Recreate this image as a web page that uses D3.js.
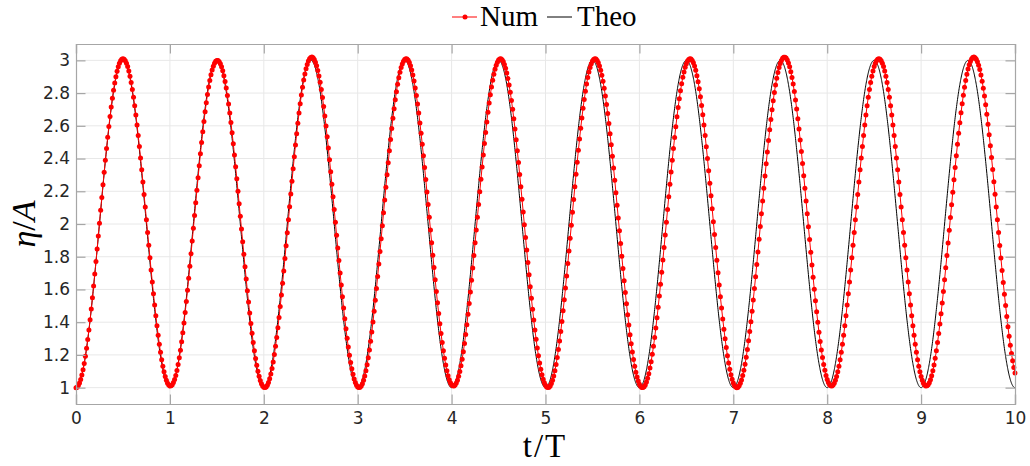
<!DOCTYPE html>
<html><head><meta charset="utf-8">
<script src="https://cdn.jsdelivr.net/npm/d3@7"></script>
<style>body{margin:0;background:#fff}svg{display:block}.tick text{font-family:"DejaVu Sans";font-size:17px}</style>
</head><body><svg id="c" width="1030" height="466"></svg>
<script>
// ---- data ----
const xTicks = [0,1,2,3,4,5,6,7,8,9,10];
const yTicks = [1,1.2,1.4,1.6,1.8,2,2.2,2.4,2.6,2.8,3];
const yTickLabels = ["1","1.2","1.4","1.6","1.8","2","2.2","2.4","2.6","2.8","3"];
// Theoretical curve: successive extrema (time, value)
const theoExtT = [0,0.5,1,1.5,2,2.5,3,3.5,4,4.5,5,5.5,6,6.5,7,7.5,8,8.5,9,9.5,10];
const theoExtV = [1,3,1,3,1,3,1,3,1,3,1,3,1,3,1,3,1,3,1,3,1];
// Numerical series: successive extrema (time, value)
const numExtT = [0,0.5,1.005,1.505,2.01,2.51,3.015,3.515,4.02,4.52,5.027,5.527,6.033,6.54,7.038,7.545,8.045,8.55,9.055,9.562,10.068];
const numExtV = [1.0,3.01,1.01,3.0,1.0,3.02,1.0,3.01,1.01,3.01,1.0,3.01,1.0,3.01,1.0,3.02,1.01,3.01,1.01,3.02,1.0];
const numStep = 0.0125;   // sampling interval of the numerical output
const tEnd = 10;

// shape between successive extrema (half cosine), sampled at given times
function sampleSeries(extT, extV, times){
  return times.map(t=>{
    let i = 0;
    while(i < extT.length-2 && t > extT[i+1]) i++;
    const a = extT[i], b = extT[i+1];
    const f = (t-a)/(b-a);
    const w = (1-Math.cos(Math.PI*f))/2;
    return {t, v: extV[i] + (extV[i+1]-extV[i])*w};
  });
}
const numTimes = d3.range(0, Math.round(tEnd/numStep)+1).map(k=>k*numStep);
const theoTimes = d3.range(0, 4001).map(k=>k*tEnd/4000);
const numData = sampleSeries(numExtT, numExtV, numTimes);
const theoData = sampleSeries(theoExtT, theoExtV, theoTimes);

// ---- drawing ----
const svg = d3.select("#c");
const L = 76, R = 1015, T = 44, B = 404;
const x = d3.scaleLinear().domain([0,10]).range([L,R]);
const y = d3.scaleLinear().domain([0.9,3.1]).range([B,T]);
const axisCol = "#a6a6a6", gridCol = "#e8e8e8", txtCol = "#262626";

// grid
const g = svg.append("g");
g.selectAll(".gx").data(xTicks.slice(1,-1)).join("line")
  .attr("x1",d=>x(d)).attr("x2",d=>x(d)).attr("y1",T).attr("y2",B)
  .attr("stroke",gridCol).attr("stroke-width",1);
g.selectAll(".gy").data(yTicks).join("line")
  .attr("y1",d=>y(d)).attr("y2",d=>y(d)).attr("x1",L).attr("x2",R)
  .attr("stroke",gridCol).attr("stroke-width",1);

// theo line
const line = d3.line().x(d=>x(d.t)).y(d=>y(d.v));
svg.append("path").datum(theoData).attr("d",line).attr("fill","none")
  .attr("stroke","#000").attr("stroke-width",1);
// num line + markers
svg.append("path").datum(numData).attr("d",line).attr("fill","none")
  .attr("stroke","#ff0000").attr("stroke-width",1);
svg.append("g").selectAll("circle").data(numData).join("circle")
  .attr("cx",d=>x(d.t)).attr("cy",d=>y(d.v)).attr("r",2.5).attr("fill","#ff0000");

// axes (box with inward ticks)
const tl = 9.5;
const axB = d3.axisBottom(x).tickValues(xTicks).tickSize(-tl).tickPadding(8).tickFormat(d3.format("d"));
const axT = d3.axisTop(x).tickValues(xTicks).tickSize(-tl).tickFormat("");
const axL = d3.axisLeft(y).tickValues(yTicks).tickSize(-tl).tickPadding(6).tickFormat((d,i)=>yTickLabels[i]);
const axR = d3.axisRight(y).tickValues(yTicks).tickSize(-tl).tickFormat("");
function styleAx(sel){
  sel.attr("font-size",17).attr("font-family","DejaVu Sans");
  sel.select(".domain").attr("stroke",axisCol).attr("stroke-width",1.2);
  sel.selectAll(".tick line").attr("stroke",axisCol).attr("stroke-width",1.2);
  sel.selectAll(".tick text").attr("fill",txtCol).attr("font-size",17);
}
svg.append("g").attr("transform",`translate(0,${B})`).call(axB).call(styleAx);
svg.append("g").attr("transform",`translate(0,${T})`).call(axT).call(styleAx);
svg.append("g").attr("transform",`translate(${L},0)`).call(axL).call(styleAx);
svg.append("g").attr("transform",`translate(${R},0)`).call(axR).call(styleAx);

// axis labels
svg.append("text").attr("x",545).attr("y",457).attr("text-anchor","middle")
  .style("font-family","Liberation Serif").style("font-size","33px").style("letter-spacing","2px")
  .attr("fill","#000").text("t/T");
const yl = svg.append("text").attr("transform","translate(35,224) rotate(-90)").attr("text-anchor","middle")
  .style("font-family","Liberation Serif").style("font-size","34px").attr("fill","#000");
yl.append("tspan").style("font-style","italic").text("η");
yl.append("tspan").text("/");
yl.append("tspan").style("font-style","italic").text("A");

// legend
const lg = svg.append("g");
lg.append("line").attr("x1",452).attr("x2",477).attr("y1",17).attr("y2",17).attr("stroke","#ff0000").attr("stroke-width",1);
lg.append("circle").attr("cx",465).attr("cy",17).attr("r",2.5).attr("fill","#ff0000");
lg.append("text").attr("x",480).attr("y",26).style("font-family","Liberation Serif").style("font-size","29px").text("Num");
lg.append("line").attr("x1",547).attr("x2",572).attr("y1",17).attr("y2",17).attr("stroke","#000").attr("stroke-width",1);
lg.append("text").attr("x",577).attr("y",26).style("font-family","Liberation Serif").style("font-size","29px").text("Theo");
</script></body></html>
